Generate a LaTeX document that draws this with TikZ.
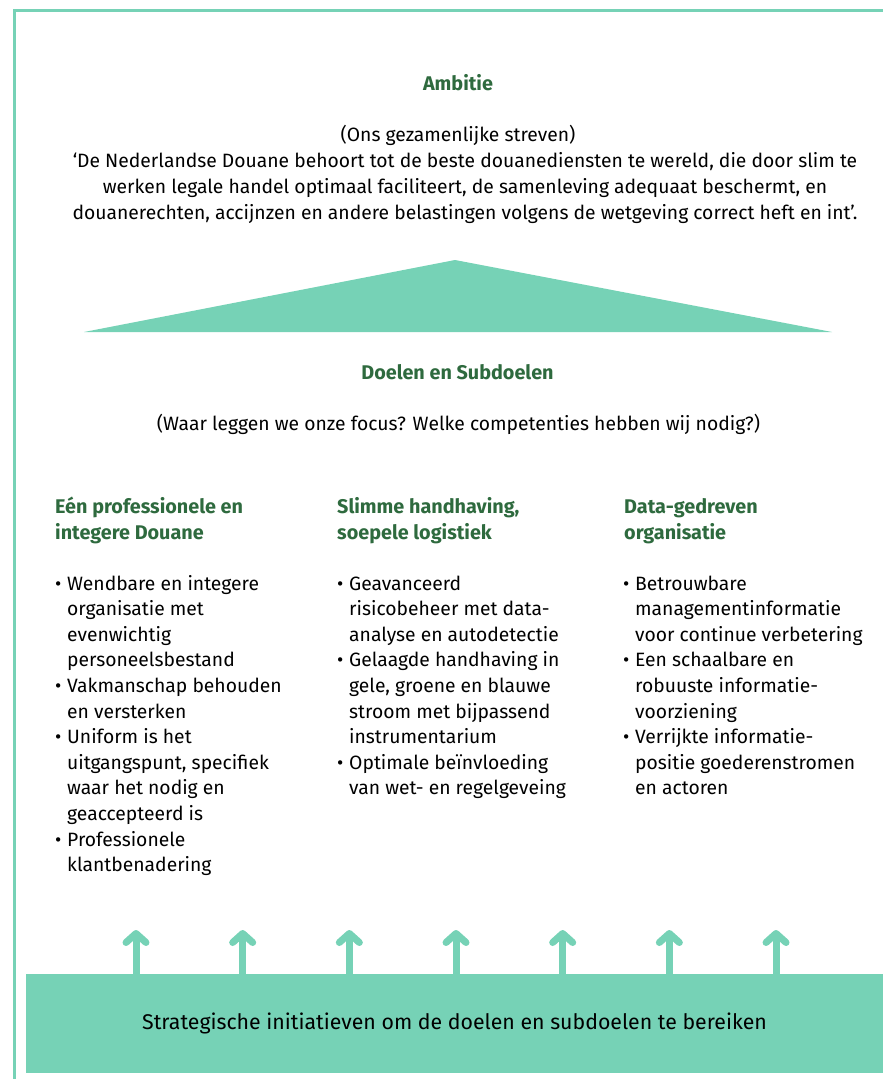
\documentclass[tikz,border=0pt]{standalone}
\usepackage{fontspec}
\setmainfont{Fira Sans}
\usetikzlibrary{positioning,arrows.meta}
\definecolor{mint}{HTML}{76D2B6}
\definecolor{darkgreen}{HTML}{2E6A3E}
\newcommand{\bul}{\strut\makebox[12pt][l]{\textbullet}}
\newcommand{\ind}{\hspace*{12pt}}
\tikzset{
  plaintext/.style={font=\fontsize{19.3}{26}\selectfont, inner sep=0pt},
  greentitle/.style={font=\fontsize{19.8}{26}\selectfont\bfseries, text=darkgreen, inner sep=0pt},
  colhead/.style={greentitle, align=left, anchor=north west},
  collist/.style={font=\fontsize{19.3}{25.6}\selectfont, inner sep=0pt, align=left, anchor=north west},
  uparrow/.style={draw=mint, line width=7pt, -{Straight Barb[length=9pt,width=20pt,round]}},
}
\begin{document}
\begin{tikzpicture}[x=1pt,y=-1pt]
\useasboundingbox (0,0) rectangle (883,1079);
% frame
\draw[mint, line width=3pt] (14,1079) -- (14,10) -- (883,10);
% ambitie
\node[greentitle, anchor=base] (ambitie) at (458,90) {Ambitie};
\node[plaintext, anchor=base] (streven) at (458,141) {(Ons gezamenlijke streven)};
\node[plaintext, align=center, anchor=north] (quote) at (465,149)
  {\strut‘De Nederlandse Douane behoort tot de beste douanediensten te wereld, die door slim te\\
   werken legale handel optimaal faciliteert, de samenleving adequaat beschermt, en\\
   douanerechten, accijnzen en andere belastingen volgens de wetgeving correct heft en int’.};
% roof
\fill[mint] (84,332) -- (455,260) -- (832,332) -- cycle;
% doelen
\node[greentitle, anchor=base] (doelen) at (457.5,379) {Doelen en Subdoelen};
\node[plaintext, anchor=base] (focus) at (458.5,430) {(Waar leggen we onze focus? Welke competenties hebben wij nodig?)};
% column 1
\node[colhead] (head1) at (55,495) {\strut Eén professionele en\\ integere Douane};
\node[collist] (list1) at (55,572)
  {\bul Wendbare en integere\\ \ind organisatie met\\ \ind evenwichtig\\ \ind personeelsbestand\\
   \bul Vakmanschap behouden\\ \ind en versterken\\
   \bul Uniform is het\\ \ind uitgangspunt, specifiek\\ \ind waar het nodig en\\ \ind geaccepteerd is\\
   \bul Professionele\\ \ind klantbenadering};
% column 2
\node[colhead] (head2) at (337,495) {\strut Slimme handhaving,\\ soepele logistiek};
\node[collist] (list2) at (337,572)
  {\bul Geavanceerd\\ \ind risicobeheer met data-\\ \ind analyse en autodetectie\\
   \bul Gelaagde handhaving in\\ \ind gele, groene en blauwe\\ \ind stroom met bijpassend\\ \ind instrumentarium\\
   \bul Optimale beïnvloeding\\ \ind van wet- en regelgeveing};
% column 3
\node[colhead] (head3) at (624,495) {\strut Data-gedreven\\ organisatie};
\node[collist] (list3) at (623,572)
  {\bul Betrouwbare\\ \ind managementinformatie\\ \ind voor continue verbetering\\
   \bul Een schaalbare en\\ \ind robuuste informatie-\\ \ind voorziening\\
   \bul Verrijkte informatie-\\ \ind positie goederenstromen\\ \ind en actoren};
% initiatieven
\node[fill=mint, minimum width=857pt, minimum height=99pt, inner sep=0pt,
      font=\fontsize{21.3}{27}\selectfont] (initiatieven) at (454.5,1023.5)
  {Strategische initiatieven om de doelen en subdoelen te bereiken};
\foreach \i in {0,...,6}
  \coordinate (tip\i) at ({136+106.67*\i},930);
\foreach \i in {0,...,6}
  \draw[uparrow] (tip\i |- initiatieven.north) -- (tip\i);
\end{tikzpicture}
\end{document}
